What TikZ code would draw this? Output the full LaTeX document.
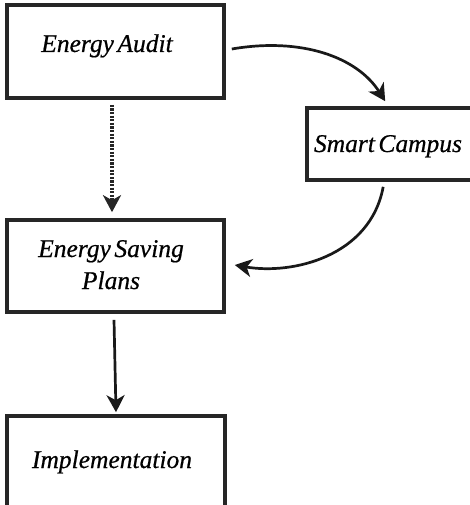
\documentclass[tikz,border=0pt]{standalone}
\usepackage{fontspec}
\setmainfont{Liberation Serif}[WordSpace=0.55, ItalicFeatures={FakeBold=0.6}]
\usetikzlibrary{arrows.meta,calc}
\tikzset{
  boxshape/.style={draw=black!85, line width=3.6pt, fill=white, rectangle, inner sep=0pt},
  txt/.style={font=\fontsize{25.5}{32}\selectfont\itshape, inner sep=0pt, align=center},
  arr/.style={draw=black!90, line width=2.7pt, -{Stealth[length=17pt,width=18pt,inset=5pt]}},
  dotarr/.style={draw=black!85, line width=3.2pt, dash pattern=on 2.2pt off 1.4pt, -{Stealth[length=17pt,width=18pt,inset=5pt,sep=0pt]}}
}
\begin{document}
\begin{tikzpicture}[x=1pt,y=-1pt]
\useasboundingbox (0,0) rectangle (470,505);
\fill[white] (0,0) rectangle (470,505);
\clip (0,0) rectangle (470,505);
% boxes
\node[boxshape, minimum width=217pt, minimum height=93pt] (audit) at (115.5,51.5) {};
\node[boxshape, minimum width=175pt, minimum height=72pt] (smart) at (394.5,144) {};
\node[boxshape, minimum width=217pt, minimum height=92pt] (plans) at (115.5,266) {};
\node[boxshape, minimum width=218pt, minimum height=110pt] (impl) at (116,471) {};
% texts
\node[txt, anchor=base] (auditT) at (107,52) {Energy Audit};
\node[txt, anchor=base] (smartT) at (388,152) {Smart Campus};
\node[txt, anchor=base] (plansT) at (111,289) {Energy Saving\\Plans};
\node[txt, anchor=base] (implT) at (112,468) {Implementation};
% connector end points
\coordinate (a1) at ($(audit.east)+(6,-2.5)$);
\coordinate (s1) at ($(smart.north west)+(80,-5)$);
\coordinate (s2) at ($(smart.south west)+(78,5)$);
\coordinate (p1) at ($(plans.east)+(9,-1)$);
\coordinate (a2) at ($(audit.south)+(-3.5,5)$);
\coordinate (p2) at ($(plans.north)+(-3.5,-6)$);
\coordinate (p3) at ($(plans.south)+(-1.5,6)$);
\coordinate (i1) at ($(impl.north)+(0,-2)$);
% connectors
\draw[arr] (a1) .. controls ($(a1)+(70,-12)$) and ($(s1)+(-28,-44)$) .. (s1);
\draw[arr] (s2) .. controls ($(s2)+(-13,70)$) and ($(p1)+(57,10)$) .. (p1);
\draw[dotarr] (a2) -- (p2);
\draw[arr] (p3) -- (i1);
\end{tikzpicture}
\end{document}
